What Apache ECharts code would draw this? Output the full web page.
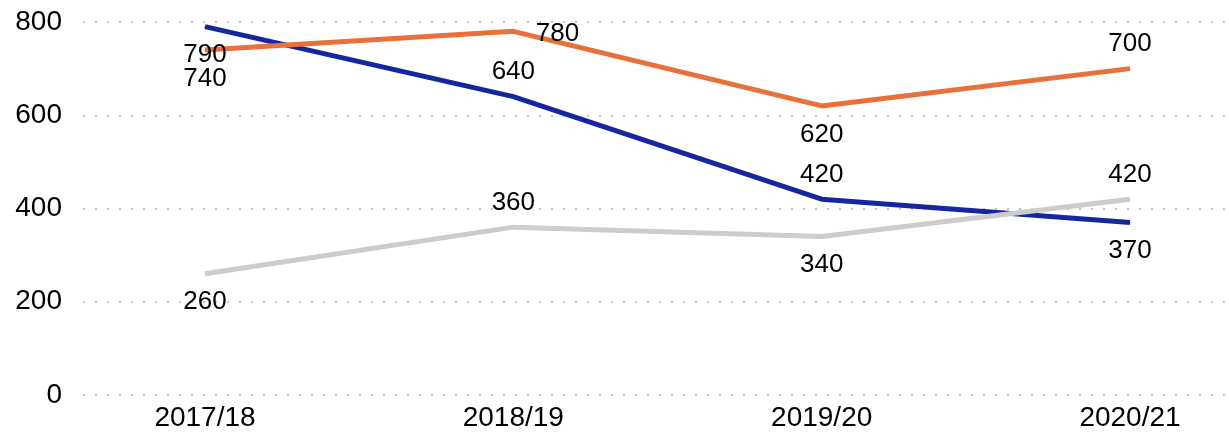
<!DOCTYPE html>
<html>
<head>
<meta charset="utf-8">
<script src="https://cdn.jsdelivr.net/npm/echarts@6/dist/echarts.min.js"></script>
<style>
  html, body { margin: 0; padding: 0; background: #fff; }
  #chart { width: 1229px; height: 436px; }
</style>
</head>
<body>
<div id="chart"></div>
<script>
// data
const years = ["2017/18", "2018/19", "2019/20", "2020/21"];
const blueVals = [790, 640, 420, 370];
const orangeVals = [740, 780, 620, 700];
const greyVals = [260, 360, 340, 420];
const yTicks = [0, 200, 400, 600, 800];

// where each point's label sits (as in the picture)
const bluePos = ["bottom", "top", "top", "bottom"];
const orangePos = ["bottom", "right", "bottom", "top"];
const greyPos = ["bottom", "top", "bottom", "top"];

const FONT = "Liberation Sans, Arial, sans-serif";

function labelFor(p) {
  if (p == "right") return { position: p, distance: 22, offset: [0, 3] };
  if (p == "bottom") return { position: p, distance: 15 };
  return { position: p, distance: 11 };
}

function points(vals, pos) {
  return vals.map(function (v, i) {
    return { value: v, label: labelFor(pos[i]) };
  });
}

function line(name, vals, pos, color) {
  return {
    name: name,
    type: "line",
    xAxisIndex: 1,
    yAxisIndex: 1,
    data: points(vals, pos),
    symbol: "circle",
    symbolSize: 1,
    showSymbol: true,
    lineStyle: { color: color, width: 5 },
    itemStyle: { color: color },
    label: { show: true, color: "#000", fontSize: 26, fontFamily: FONT },
    animation: false
  };
}

var chart = echarts.init(document.getElementById("chart"));
var option = {
  animation: false,
  grid: [
    // background grid, only for the dotted lines and y labels
    { left: 83, right: 0, top: 22, bottom: 41 },
    // plot grid, categories at the line ends
    { left: 205, right: 99, top: 22, bottom: 41 }
  ],
  xAxis: [
    { gridIndex: 0, type: "value", show: false, min: 0, max: 1 },
    {
      gridIndex: 1,
      type: "category",
      data: years,
      boundaryGap: false,
      axisLine: { show: false },
      axisTick: { show: false },
      axisLabel: { color: "#000", fontSize: 28, fontFamily: FONT, margin: 9 }
    }
  ],
  yAxis: [
    {
      gridIndex: 0,
      type: "value",
      min: yTicks[0],
      max: yTicks[yTicks.length - 1],
      interval: 200,
      axisLine: { show: false },
      axisTick: { show: false },
      axisLabel: { color: "#000", fontSize: 28, fontFamily: FONT, margin: 21 },
      splitLine: { lineStyle: { color: "#c4c4c4", width: 2, type: [2, 10] } }
    },
    {
      gridIndex: 1,
      type: "value",
      min: 0,
      max: 800,
      show: false,
      splitLine: { show: false }
    }
  ],
  series: [
    line("Blue", blueVals, bluePos, "#1526a0"),
    line("Orange", orangeVals, orangePos, "#e8703a"),
    line("Grey", greyVals, greyPos, "#cccccc")
  ]
};
option && chart.setOption(option);
</script>
</body>
</html>
